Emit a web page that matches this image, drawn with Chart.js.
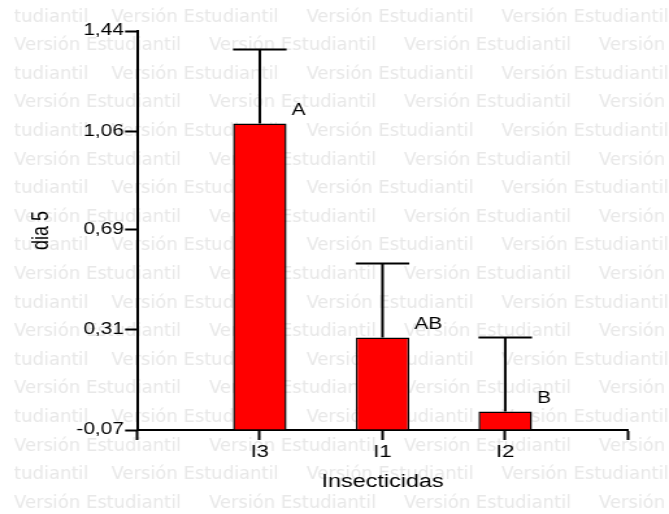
<!DOCTYPE html>
<html><head><meta charset="utf-8">
<script src="https://cdn.jsdelivr.net/npm/chart.js@4.4.1/dist/chart.umd.min.js"></script>
<style>html,body{margin:0;padding:0;background:#fff;overflow:hidden}
#c{width:669px!important;height:514px!important;display:block}</style></head>
<body><canvas id="c" width="515" height="514"></canvas>
<script>
const categories = ['I3', 'I1', 'I2'];
const means = [1.09, 0.28, 0.00];
const stdErr = [0.28, 0.28, 0.28];
const letters = ['A', 'AB', 'B'];
const yTicks = [-0.07, 0.31, 0.69, 1.06, 1.44];
const xTitle = 'Insecticidas';
const yTitle = 'dia 5';
const watermarkWord = 'Versión Estudiantil';
const watermarkTail = 'tudiantil';

const CW = 515, SX = 669 / CW;
const FONT = "'Liberation Sans', Arial, sans-serif";
const labels = ['', ...categories, ''];
const barData = [null, ...means, null];
const errData = [null, ...stdErr, null];
const letterData = [null, ...letters, null];
const yMin = yTicks[0], yMax = yTicks[yTicks.length - 1];

const watermark = {
  id: 'watermark',
  beforeDraw(chart) {
    const ctx = chart.ctx;
    ctx.save();
    ctx.fillStyle = '#fff';
    ctx.fillRect(0, 0, chart.width, chart.height);
    ctx.scale(1 / SX, 1);
    ctx.fillStyle = '#e8e8e8';
    ctx.font = "18px 'DejaVu Sans'";
    ctx.textBaseline = 'middle';
    ctx.textAlign = 'left';
    for (let k = 0; k < 18; k++) {
      const y = 17 + 28.6 * k;
      if (k % 2 === 0) {
        ctx.fillText(watermarkTail, 14, y);
        for (let j = 0; j < 3; j++) ctx.fillText(watermarkWord, 111.5 + 195 * j, y);
      } else {
        for (let j = 0; j < 4; j++) ctx.fillText(watermarkWord, 14 + 195 * j, y);
      }
    }
    ctx.restore();
  }
};

const errorBars = {
  id: 'errorBars',
  afterDatasetsDraw(chart) {
    const ctx = chart.ctx, y = chart.scales.y, meta = chart.getDatasetMeta(0);
    ctx.save();
    ctx.strokeStyle = '#000';
    ctx.lineWidth = 2;
    meta.data.forEach((bar, i) => {
      if (barData[i] == null) return;
      const top = y.getPixelForValue(barData[i] + errData[i]);
      const half = bar.width / 2;
      ctx.beginPath();
      ctx.moveTo(bar.x, bar.y);
      ctx.lineTo(bar.x, top);
      ctx.moveTo(bar.x - half, top);
      ctx.lineTo(bar.x + half, top);
      ctx.stroke();
    });
    ctx.fillStyle = '#000';
    ctx.font = '16px ' + FONT;
    ctx.textAlign = 'left';
    ctx.textBaseline = 'middle';
    meta.data.forEach((bar, i) => {
      if (!letterData[i]) return;
      ctx.fillText(letterData[i], bar.x + bar.width / 2 + 4, bar.y - 13);
    });
    ctx.restore();
  }
};

new Chart(document.getElementById('c'), {
  type: 'bar',
  data: {
    labels: labels,
    datasets: [{
      data: barData,
      backgroundColor: '#ff0000',
      borderColor: '#000',
      borderWidth: 1.5,
      borderSkipped: 'start',
      base: yMin,
      categoryPercentage: 1,
      barPercentage: 0.436
    }]
  },
  options: {
    responsive: false,
    animation: false,
    devicePixelRatio: 1,
    layout: { padding: { left: 0, right: 31.6, top: 31, bottom: 0 } },
    plugins: { legend: { display: false }, tooltip: { enabled: false } },
    scales: {
      x: {
        type: 'category',
        offset: false,
        grid: { display: true, drawOnChartArea: false, drawTicks: true, tickLength: 10, tickWidth: 2, tickColor: '#000', offset: false },
        border: { display: true, color: '#000', width: 2 },
        ticks: { color: '#000', font: { family: FONT, size: 17 }, padding: 2, autoSkip: false, maxRotation: 0 },
        title: { display: true, text: xTitle, color: '#000', font: { family: FONT, size: 18 }, padding: { top: 0, bottom: 21 } },
        afterFit(s) { s.height = 84; }
      },
      y: {
        type: 'linear',
        min: yMin,
        max: yMax,
        afterBuildTicks(s) { s.ticks = yTicks.map(v => ({ value: v })); },
        grid: { drawOnChartArea: false, tickLength: 9.2, tickWidth: 2, tickColor: '#000' },
        border: { display: true, color: '#000', width: 2 },
        ticks: { color: '#000', font: { family: FONT, size: 16 }, padding: 1, callback: (v) => v.toFixed(2).replace('.', ',') },
        title: { display: true, text: yTitle, color: '#000', font: { family: FONT, size: 18 }, padding: { top: 21.2, bottom: 0 } },
        afterFit(s) { s.width = 105.5; }
      }
    }
  },
  plugins: [watermark, errorBars]
});
</script>
</body></html>
